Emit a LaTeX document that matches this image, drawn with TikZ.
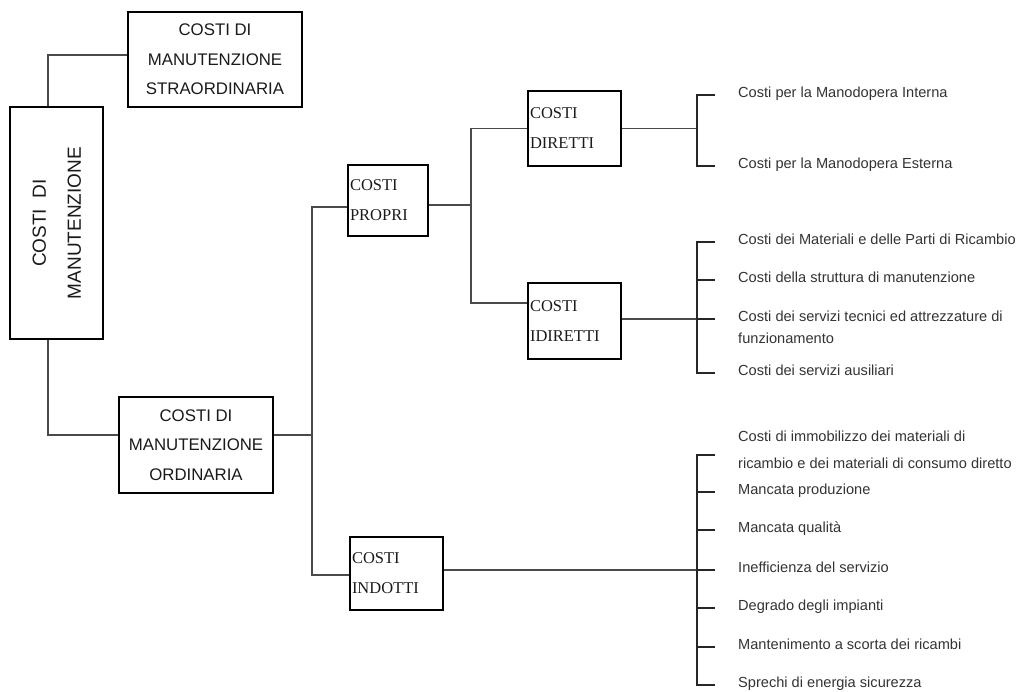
\documentclass[tikz,border=0pt]{standalone}
\usepackage{fontspec}
\setmainfont{Liberation Sans}
\newfontfamily\serifbox{Liberation Serif}
\definecolor{linec}{HTML}{4A4A4A}
\definecolor{itemtxt}{HTML}{333333}
\definecolor{boxtxt}{HTML}{1A1A1A}
\begin{document}
\begin{tikzpicture}[x=1pt,y=-1pt,
  box/.style={draw=black, line width=1.8pt, inner sep=0pt, text=boxtxt},
  sansbox/.style={box, font=\fontsize{16.8}{29.5}\selectfont, align=center},
  serbox/.style={box, font=\serifbox\fontsize{16.5}{30}\selectfont, align=left, inner xsep=2pt},
  conn/.style={draw=linec, line width=1.5pt},
  tick/.style={draw=black!85, line width=1.5pt},
  item/.style={anchor=mid west, inner sep=0pt, font=\fontsize{14.6}{27}\selectfont, text=itemtxt}
]
\useasboundingbox (0,0) rectangle (1023,691);

% ---- boxes ----
\node[box, minimum width=93pt, minimum height=232pt] (tot) at (56.5,223)
  {\rotatebox{90}{\fontsize{19}{35}\selectfont\begin{tabular}{@{}c@{}}COSTI~~DI\\MANUTENZIONE\end{tabular}}};
\node[sansbox, minimum width=174pt, minimum height=95pt] (stra) at (215,59.5)
  {COSTI DI\\MANUTENZIONE\\STRAORDINARIA};
\node[sansbox, minimum width=154pt, minimum height=96pt] (ord) at (196,445)
  {COSTI DI\\MANUTENZIONE\\ORDINARIA};
\node[serbox, minimum width=80pt, minimum height=71pt, text width=76pt] (propri) at (388,200.5)
  {COSTI\\PROPRI};
\node[serbox, minimum width=93pt, minimum height=73pt, text width=89pt] (indotti) at (396.5,573.5)
  {COSTI\\INDOTTI};
\node[serbox, minimum width=93pt, minimum height=75pt, text width=89pt] (diretti) at (574.5,128.5)
  {COSTI\\DIRETTI};
\node[serbox, minimum width=93pt, minimum height=76pt, text width=89pt] (idiretti) at (574.5,321)
  {COSTI\\IDIRETTI};

% ---- items ----
\node[item] (d1) at (738,95) {Costi per la Manodopera Interna};
\node[item] (d2) at (738,166) {Costi per la Manodopera Esterna};

\node[item] (i1) at (738,242) {Costi dei Materiali e delle Parti di Ricambio};
\node[item] (i2) at (738,280) {Costi della struttura di manutenzione};
\node[item] (i3) at (738,319) {Costi dei servizi tecnici ed attrezzature di};
\node[item] (i3b) at (738,341) {funzionamento};
\node[item] (i4) at (738,373) {Costi dei servizi ausiliari};

\node[item] (n1a) at (738,439) {Costi di immobilizzo dei materiali di};
\node[item] (n1b) at (738,466) {ricambio e dei materiali di consumo diretto};
\node[item] (n2) at (738,492) {Mancata produzione};
\node[item] (n3) at (738,530) {Mancata qualità};
\node[item] (n4) at (738,570) {Inefficienza del servizio};
\node[item] (n5) at (738,608) {Degrado degli impianti};
\node[item] (n6) at (738,647) {Mantenimento a scorta dei ricambi};
\node[item] (n7) at (738,685) {Sprechi di energia sicurezza};

% ---- junctions ----
\coordinate (j1) at (312,435);
\coordinate (j2) at (471,205);
\coordinate (sp) at (697,0);
\coordinate (n1) at (738,455);

% ---- left tree ----
\draw[conn] ([xshift=-8.5pt]tot.north) |- ([yshift=4.5pt]stra.west);
\draw[conn] ([xshift=-8.5pt]tot.south) |- ([yshift=10pt]ord.west);
\draw[conn] ([yshift=10pt]ord.east) -- (j1);
\draw[conn] ([yshift=-6.5pt]propri.west) -| (j1) |- ([yshift=-1.5pt]indotti.west);
\draw[conn] ([yshift=-4.5pt]propri.east) -- (j2);
\draw[conn] (diretti.west) -| (j2) |- ([yshift=18pt]idiretti.west);

% ---- brackets ----
\draw[conn] (diretti.east) -- (sp |- diretti.east);
\draw[tick] ([xshift=-23pt]d1.mid west) -- (sp |- d1.mid west) -- (sp |- d2.mid west) -- ([xshift=-23pt]d2.mid west);

\draw[conn] ([yshift=2pt]idiretti.east) -- (sp |- i3.mid west);
\draw[tick] ([xshift=-23pt]i1.mid west) -- (sp |- i1.mid west) -- (sp |- i4.mid west) -- ([xshift=-23pt]i4.mid west);
\draw[tick] (sp |- i2.mid west) -- ([xshift=-23pt]i2.mid west);
\draw[tick] (sp |- i3.mid west) -- ([xshift=-23pt]i3.mid west);

\draw[conn] ([yshift=3.5pt]indotti.east) -- (sp |- n4.mid west);
\draw[tick] ([xshift=-23pt]n1) -- (sp |- n1) -- (sp |- n7.mid west) -- ([xshift=-23pt]n7.mid west);
\foreach \n in {n2,n3,n4,n5,n6}
  \draw[tick] (sp |- \n.mid west) -- ([xshift=-23pt]\n.mid west);
\end{tikzpicture}
\end{document}
